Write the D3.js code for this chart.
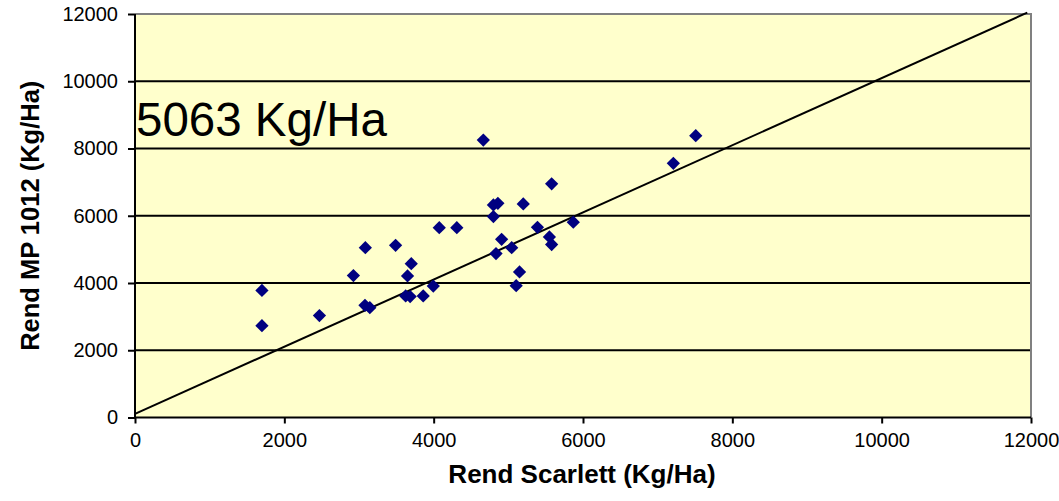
<!DOCTYPE html>
<html>
<head>
<meta charset="utf-8">
<script src="https://cdn.jsdelivr.net/npm/d3@7"></script>
<style>
  html, body { margin: 0; padding: 0; background: #fff; }
  svg { display: block; font-family: "Liberation Sans", Arial, sans-serif; }
</style>
</head>
<body>
<svg id="chart" width="1059" height="501"></svg>
<script>
// Data: Rend Scarlett (x) vs Rend MP 1012 (y), Kg/Ha
const scarlett = [1700, 1700, 2470, 2925, 3085, 3080, 3145, 3490, 3700, 3650, 3625, 3685, 3860, 3995, 4075, 4310, 4665, 5580, 4800, 4860, 4800, 5200, 5390, 5870, 4910, 5045, 4835, 5550, 5580, 5150, 5105, 7210, 7510];
const mp1012   = [3780, 2730, 3030, 4220, 5050, 3335, 3265, 5120, 4575, 4210, 3615, 3595, 3615, 3910, 5645, 5645, 8250, 6950, 6320, 6370, 5975, 6350, 5655, 5810, 5300, 5050, 4875, 5370, 5145, 4330, 3920, 7560, 8380];
const refLineX = [0, 11950];
const refLineY = [110, 12040];
const xTicks = [0, 2000, 4000, 6000, 8000, 10000, 12000];
const yTicks = [0, 2000, 4000, 6000, 8000, 10000, 12000];
const annotation = "5063 Kg/Ha";
const xTitle = "Rend Scarlett (Kg/Ha)";
const yTitle = "Rend MP 1012 (Kg/Ha)";

const svg = d3.select("#chart");
const L = 135, R = 1031, T = 14, B = 417.5;

const x = d3.scaleLinear().domain([0, 12000]).range([L, R]);
const y = d3.scaleLinear().domain([0, 12000]).range([B, T]);

// plot background
svg.append("rect").attr("x", L).attr("y", T).attr("width", R - L).attr("height", B - T)
  .attr("fill", "#FFFFCC");

// gridlines
svg.append("g").selectAll("line").data(yTicks.filter(d => d > 0 && d < 12000)).join("line")
  .attr("x1", L).attr("x2", R).attr("y1", d => y(d)).attr("y2", d => y(d))
  .attr("stroke", "#000").attr("stroke-width", 2);

// top and right border (grey)
svg.append("path").attr("d", `M${L},${T}H${R}V${B}`).attr("fill", "none")
  .attr("stroke", "#808080").attr("stroke-width", 2);

// annotation text
svg.append("text").attr("x", 136).attr("y", 135.5).attr("font-size", 47.5)
  .attr("fill", "#000").text(annotation);

// reference line
const line = d3.line().x(d => x(d[0])).y(d => y(d[1]));
svg.append("path").datum(d3.zip(refLineX, refLineY)).attr("d", line)
  .attr("fill", "none").attr("stroke", "#000").attr("stroke-width", 2);

// axes
const xAxis = d3.axisBottom(x).tickValues(xTicks).tickSize(6).tickPadding(9).tickFormat(d3.format("d"));
const gx = svg.append("g").attr("transform", `translate(0,${B})`).call(xAxis);
const yAxis = d3.axisLeft(y).tickValues(yTicks).tickSize(7).tickPadding(10).tickFormat(d3.format("d"));
const gy = svg.append("g").attr("transform", `translate(${L},0)`).call(yAxis);
[gx, gy].forEach(g => {
  g.select(".domain").attr("stroke", "#000").attr("stroke-width", 2);
  g.selectAll(".tick line").attr("stroke", "#000").attr("stroke-width", 2);
  g.selectAll(".tick text").attr("font-size", 20).attr("fill", "#000")
    .attr("font-family", "'Liberation Sans', Arial, sans-serif");
});
gx.select(".domain").attr("d", `M${L},0H${R}`);
gy.select(".domain").attr("d", `M0,${B}V${T}`);

// points (diamonds)
const diamond = d3.symbol().type(d3.symbolDiamond2).size(112);
svg.append("g").selectAll("path").data(d3.zip(scarlett, mp1012)).join("path")
  .attr("transform", d => `translate(${x(d[0])},${y(d[1])})`)
  .attr("d", diamond).attr("fill", "#000080");

// titles
svg.append("text").attr("x", (L + R) / 2 - 1).attr("y", 483).attr("text-anchor", "middle")
  .attr("font-size", 26).attr("font-weight", "bold").attr("fill", "#000").text(xTitle);
svg.append("text").attr("transform", `translate(39,${(T + B) / 2}) rotate(-90)`)
  .attr("text-anchor", "middle").attr("font-size", 25.5).attr("font-weight", "bold")
  .attr("fill", "#000").text(yTitle);
</script>
</body>
</html>
